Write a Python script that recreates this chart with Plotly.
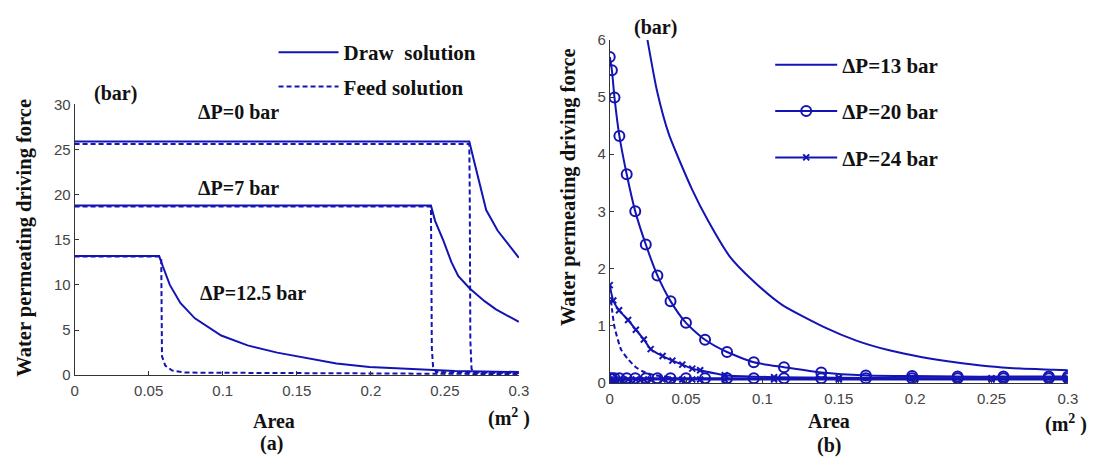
import plotly.graph_objects as go

# ---------------- data: panel (a) ----------------
x_draw_0 = [0, 0.2665, 0.2690, 0.2735, 0.2779, 0.2857, 0.2923, 0.3]
y_draw_0 = [25.9, 25.9, 24.2, 21.3, 18.3, 16.0, 14.6, 13.0]
x_feed_0 = [0, 0.2665, 0.2668, 0.2672, 0.2680, 0.2700, 0.3]
y_feed_0 = [25.6, 25.6, 20.0, 3.9, 0.7, 0.3, 0.25]

x_draw_7 = [0, 0.2406, 0.2434, 0.2490, 0.2545, 0.2590, 0.2668, 0.2768, 0.2845, 0.2925, 0.3]
y_draw_7 = [18.8, 18.8, 17.1, 14.9, 12.5, 11.0, 9.6, 8.2, 7.3, 6.6, 5.9]
x_feed_7 = [0, 0.2406, 0.2408, 0.2412, 0.2420, 0.2440, 0.3]
y_feed_7 = [18.7, 18.7, 14.0, 3.0, 1.0, 0.35, 0.25]

x_draw_125 = [0, 0.0571, 0.0595, 0.0643, 0.0714, 0.0812, 0.0990, 0.1168, 0.1368, 0.1545,
              0.1768, 0.1990, 0.2279, 0.2568, 0.3]
y_draw_125 = [13.2, 13.2, 12.1, 10.0, 8.0, 6.3, 4.4, 3.3, 2.5, 1.95,
              1.3, 0.92, 0.65, 0.46, 0.35]
x_feed_125 = [0, 0.0571, 0.0585, 0.0590, 0.0612, 0.0657, 0.0745, 0.3]
y_feed_125 = [13.15, 13.15, 12.9, 2.1, 1.07, 0.53, 0.29, 0.12]

# ---------------- data: panel (b) ----------------
x_13 = [0.0247, 0.031, 0.0387, 0.0538, 0.0645, 0.0786, 0.0945, 0.1126, 0.14, 0.1615,
        0.183, 0.2046, 0.226, 0.2478, 0.269, 0.291, 0.3]
y_13 = [6.0, 5.1, 4.35, 3.39, 2.83, 2.21, 1.77, 1.37, 0.98, 0.74,
        0.57, 0.45, 0.36, 0.29, 0.25, 0.23, 0.22]
x_13_feed = [0.0008, 0.0016, 0.0031, 0.0074, 0.0118, 0.0171, 0.0225, 0.03, 0.04]
y_13_feed = [1.45, 1.26, 0.98, 0.585, 0.42, 0.275, 0.19, 0.13, 0.1]

x_20 = [0.0, 0.0014, 0.0031, 0.0063, 0.0111, 0.0167, 0.0236, 0.0312, 0.0398, 0.0499, 0.0624,
        0.0768, 0.0943, 0.1141, 0.1385, 0.1677, 0.198, 0.2278, 0.2578, 0.2875, 0.3]
y_20 = [5.70, 5.47, 4.99, 4.32, 3.65, 3.0, 2.42, 1.88, 1.43, 1.05, 0.755,
        0.54, 0.36, 0.275, 0.18, 0.13, 0.12, 0.11, 0.11, 0.11, 0.11]
y_20_feed = [0.08, 0.08, 0.08, 0.08, 0.08, 0.08, 0.08, 0.08, 0.08, 0.08, 0.08,
             0.08, 0.08, 0.08, 0.08, 0.08, 0.08, 0.08, 0.08, 0.08, 0.08]

x_24 = [0.0, 0.0023, 0.0061, 0.012, 0.0171, 0.0223, 0.0268, 0.0346, 0.041, 0.0475, 0.054,
        0.0592, 0.0753, 0.1076, 0.15, 0.2, 0.25, 0.3]
y_24 = [1.71, 1.44, 1.27, 1.10, 0.93, 0.76, 0.59, 0.47, 0.39, 0.32, 0.25,
        0.22, 0.135, 0.10, 0.09, 0.08, 0.08, 0.08]
y_24_feed = [0.06, 0.06, 0.06, 0.06, 0.06, 0.06, 0.06, 0.06, 0.06, 0.06, 0.06,
             0.06, 0.06, 0.06, 0.06, 0.06, 0.06, 0.06]

x_ticks = [0, 0.05, 0.1, 0.15, 0.2, 0.25, 0.3]
x_ticktext = ["0", "0.05", "0.1", "0.15", "0.2", "0.25", "0.3"]
ya_ticks = [0, 5, 10, 15, 20, 25, 30]
yb_ticks = [0, 1, 2, 3, 4, 5, 6]

# ---------------- styling ----------------
W, H = 1109, 468
BLUE = "#1414b4"
SERIF = "Liberation Serif, Times New Roman, serif"
SANS = "Liberation Sans, Arial, sans-serif"
DASH = "5px,3px"

def px(x, y):
    return x / W, 1 - y / H

fig = go.Figure()

def add(x, y, xa, ya, dash="solid", width=2, name=None, legend=None, group=None,
        marker=None, shape="linear"):
    mode = "lines+markers" if marker else "lines"
    kw = dict(x=x, y=y, xaxis=xa, yaxis=ya, mode=mode,
              line=dict(color=BLUE, width=width, dash=dash, shape=shape),
              showlegend=name is not None, hoverinfo="skip")
    if shape == "spline":
        kw["line"]["smoothing"] = 0.6
    if name is not None:
        kw.update(name=name, legend=legend, legendgroup=group)
    if marker:
        kw["marker"] = marker
    fig.add_trace(go.Scatter(**kw))

# panel (a)
add(x_draw_0, y_draw_0, "x", "y", name="Draw  solution", legend="legend", group="a1")
add(x_feed_0, y_feed_0, "x", "y", dash=DASH, name="Feed solution", legend="legend", group="a2")
add(x_draw_7, y_draw_7, "x", "y")
add(x_feed_7, y_feed_7, "x", "y", dash=DASH)
add(x_draw_125, y_draw_125, "x", "y")
add(x_feed_125, y_feed_125, "x", "y", dash=DASH)

# panel (b)
circ = dict(symbol="circle-open", size=10, color=BLUE, line=dict(width=2, color=BLUE))
cross = dict(symbol="x-thin-open", size=6, color=BLUE, line=dict(width=2, color=BLUE))
add(x_13, y_13, "x2", "y2", name="ΔP=13 bar", legend="legend2", group="b1", shape="spline")
add(x_13_feed, y_13_feed, "x2", "y2", dash=DASH, shape="spline")
add(x_20, y_20, "x2", "y2", name="ΔP=20 bar", legend="legend2", group="b2", marker=circ,
    shape="spline")
add(x_20, y_20_feed, "x2", "y2", marker=circ)
add(x_24, y_24, "x2", "y2", name="ΔP=24 bar", legend="legend2", group="b3", marker=cross,
    shape="spline")
add(x_24, y_24_feed, "x2", "y2", marker=cross)

axis_common = dict(showline=True, linecolor="#333333", linewidth=1, mirror=False,
                   showgrid=False, zeroline=False, ticks="inside", ticklen=4,
                   tickcolor="#333333", tickfont=dict(family=SANS, size=15, color="#444444"))

fig.update_layout(
    width=W, height=H, margin=dict(l=0, r=0, t=0, b=0),
    paper_bgcolor="white", plot_bgcolor="white",
    xaxis=dict(domain=[71.5 / W, 521.5 / W], anchor="y", range=[0, 0.3],
               tickvals=x_ticks, ticktext=x_ticktext, ticklabelstandoff=2, **axis_common),
    yaxis=dict(domain=[(H - 380) / H, (H - 99) / H], anchor="x", range=[0, 30],
               tickvals=ya_ticks, **axis_common),
    xaxis2=dict(domain=[613.5 / W, 1077.5 / W], anchor="y2", range=[0, 0.3],
                tickvals=x_ticks, ticktext=x_ticktext, ticklabelstandoff=2, **axis_common),
    yaxis2=dict(domain=[(H - 388) / H, (H - 32) / H], anchor="x2", range=[0, 6],
                tickvals=yb_ticks, **axis_common),
    legend=dict(x=273 / W, y=1 - 24 / H, xanchor="left", yanchor="top",
                bgcolor="rgba(0,0,0,0)", tracegroupgap=4, itemwidth=60,
                font=dict(family=SERIF, size=21, color="#111111", weight="bold")),
    legend2=dict(x=776 / W, y=1 - 37 / H, xanchor="left", yanchor="top",
                 bgcolor="rgba(0,0,0,0)", tracegroupgap=16, itemwidth=62,
                 font=dict(family=SERIF, size=21, color="#111111", weight="bold")),
)

def label(text, x, y, size=20, angle=0):
    xp, yp = px(x, y)
    fig.add_annotation(text=text, x=xp, y=yp, xref="paper", yref="paper",
                       xanchor="center", yanchor="middle", showarrow=False,
                       textangle=angle,
                       font=dict(family=SERIF, size=size, color="#111111", weight="bold"))

# panel (a) texts
label("(bar)", 113, 88)
label("ΔP=0 bar", 238, 107)
label("ΔP=7 bar", 238, 186)
label("ΔP=12.5 bar", 252, 295)
label("Water permeating driving force", 20.5, 237, size=20.5, angle=-90)
label("Area", 273, 428)
label("(m<sup>2</sup> )", 511, 424)
label("(a)", 271, 451)

# panel (b) texts
label("(bar)", 660, 19)
label("Water permeating driving force", 572, 185, size=20.5, angle=-90)
label("Area", 836, 428)
label("(m<sup>2</sup> )", 1076, 430)
label("(b)", 836, 453)

fig.write_html("out.html")
